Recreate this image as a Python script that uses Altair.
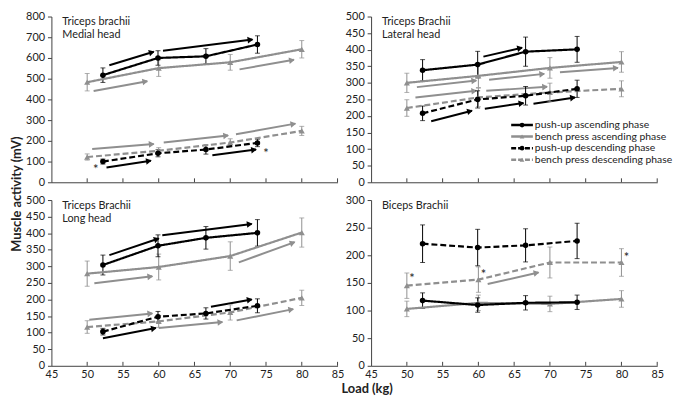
import math
import altair as alt
import pandas as pd

W, H = 290, 168
FONT = "Lato"
BLACK = "#000000"
GRAY = "#8f8f8f"
AX = "#404040"

XTICKS = [45, 50, 55, 60, 65, 70, 75, 80, 85]
pu_load = [52.2, 59.9, 66.6, 73.8]
bp_load = [50, 60, 70, 80]

SERIES = ["push-up ascending phase", "bench press ascending phase",
          "push-up descending phase", "bench press descending phase"]
STYLE = {
    SERIES[0]: dict(color=BLACK, dash=[1, 0], shape="circle", load=pu_load),
    SERIES[1]: dict(color=GRAY, dash=[1, 0], shape="triangle-up", load=bp_load),
    SERIES[2]: dict(color=BLACK, dash=[6, 3], shape="circle", load=pu_load),
    SERIES[3]: dict(color=GRAY, dash=[6, 3], shape="triangle-up", load=bp_load),
}

# ---- Triceps brachii medial head ----
med_vals = [[517, 600, 608, 665], [483, 551, 579, 642], [100, 140, 158, 190], [122, 152, 192, 248]]
med_errs = [[35, 35, 37, 42], [42, 40, 38, 42], [12, 17, 22, 18], [15, 15, 18, 22]]
med_arrows = [
    (53.1, 565, 59.3, 630, BLACK), (60.6, 635, 73.1, 689, BLACK),
    (52.7, 71, 58.9, 104, BLACK), (67.5, 130, 73.6, 158, BLACK),
    (50.9, 441, 58.4, 488, GRAY), (71.3, 545, 78.9, 591, GRAY),
    (50.7, 161, 59.3, 185, GRAY), (60.7, 192, 69.7, 226, GRAY), (70.8, 232, 79.1, 283, GRAY),
]
med_stars = [(51.2, 73), (75.0, 152)]

# ---- Triceps brachii lateral head ----
lat_vals = [[338, 355, 394, 401], [300, 321, 345, 363], [208, 250, 261, 282], [224, 256, 271, 282]]
lat_errs = [[32, 40, 44, 39], [29, 35, 31, 31], [22, 26, 28, 26], [25, 28, 28, 24]]
lat_arrows = [
    (60.7, 379, 66.1, 406, BLACK), (53.4, 184, 59.1, 216, BLACK),
    (60.9, 222, 66.3, 239, BLACK), (67.7, 237, 73.5, 256, BLACK),
    (51.4, 287, 59.7, 307, GRAY), (61.5, 309, 69.2, 327, GRAY), (71.4, 332, 79.5, 345, GRAY),
    (51.2, 256, 59.7, 276, GRAY), (61.1, 276, 69.6, 288, GRAY),
]
lat_stars = []

# ---- Triceps brachii long head ----
long_vals = [[304, 362, 386, 401], [278, 298, 331, 402], [103, 148, 158, 181], [117, 134, 161, 205]]
long_errs = [[30, 33, 34, 40], [38, 39, 43, 44], [10, 16, 17, 21], [19, 18, 23, 23]]
long_arrows = [
    (53.1, 334, 60.0, 384, BLACK), (60.5, 394, 73.0, 428, BLACK),
    (52.2, 83, 59.6, 114, BLACK), (67.3, 178, 73.0, 200, BLACK),
    (51.0, 249, 59.1, 270, GRAY), (71.2, 312, 79.0, 373, GRAY),
    (50.3, 139, 59.1, 158, GRAY), (60.0, 114, 68.9, 132, GRAY), (70.9, 137, 78.8, 171, GRAY),
]
long_stars = []

# ---- Biceps brachii ----
bic_vals = [[118, 110, 114, 115], [103, 114, 112, 121], [221, 214, 218, 226], [145, 156, 187, 187]]
bic_errs = [[14, 13, 13, 13], [14, 14, 14, 15], [34, 33, 30, 32], [23, 23, 28, 25]]
bic_arrows = [(61.3, 148, 68.4, 169, GRAY)]
bic_stars = [(50.7, 162), (60.7, 170), (80.7, 200)]


def panel(title_lines, ymax, ystep, vals, errs, arrows, stars, xlabels,
          legend=False, extra=None):
    xs = alt.Scale(domain=[45, 85], nice=False, zero=False)
    ys = alt.Scale(domain=[0, ymax], nice=False)
    xax = alt.Axis(values=XTICKS, labels=xlabels, ticks=False, title=None, grid=False,
                   domainColor=AX, labelFont=FONT, labelFontSize=11, labelColor="#222",
                   labelPadding=3, labelFlush=False)
    yax = alt.Axis(values=list(range(0, ymax + 1, ystep)), title=None, grid=False,
                   domainColor=AX, tickColor=AX, tickSize=4, labelFont=FONT,
                   labelFontSize=11, labelColor="#222", labelPadding=3)
    X = lambda f: alt.X(f, type="quantitative", scale=xs, axis=xax)
    Y = lambda f: alt.Y(f, type="quantitative", scale=ys, axis=yax)

    layers = []
    # inward x ticks
    tick_df = pd.DataFrame({"t": XTICKS[1:]})
    layers.append(alt.Chart(tick_df).mark_rule(color=AX, strokeWidth=1).encode(
        x=X("t"), y=alt.value(H), y2=alt.value(H - 4)))

    # arrows
    adf = pd.DataFrame(arrows, columns=["x1", "y1", "x2", "y2", "c"])
    layers.append(alt.Chart(adf).mark_rule(strokeWidth=2).encode(
        x=X("x1"), y=Y("y1"), x2="x2", y2="y2", color=alt.Color("c:N", scale=None)))
    heads = []
    for x1, y1, x2, y2, c in arrows:
        dx = (x2 - x1) * W / 40.0
        dy = -(y2 - y1) * H / ymax
        ln = math.hypot(dx, dy)
        ux, uy = dx / ln, dy / ln
        hx = x2 - 2.0 * ux / (W / 40.0)
        hy = y2 + 2.0 * uy / (H / ymax)
        heads.append(dict(x=hx, y=hy, ang=math.degrees(math.atan2(dy, dx)) % 360, c=c))
    hdf = pd.DataFrame(heads)
    layers.append(alt.Chart(hdf).mark_point(shape="triangle-right", filled=True, size=45,
                                            opacity=1).encode(
        x=X("x"), y=Y("y"), angle=alt.Angle("ang:Q", scale=None),
        color=alt.Color("c:N", scale=None)))

    # series: error bars, lines, points
    order = [1, 3, 0, 2]
    for i in order:
        s = SERIES[i]
        st = STYLE[s]
        df = pd.DataFrame({"load": st["load"], "v": vals[i], "e": errs[i]})
        df["lo"] = df["v"] - df["e"]
        df["hi"] = df["v"] + df["e"]
        layers.append(alt.Chart(df).mark_rule(color=st["color"], strokeWidth=1).encode(
            x=X("load"), y=Y("lo"), y2="hi"))
        layers.append(alt.Chart(df).mark_tick(color=st["color"], thickness=1, size=5,
                                              orient="horizontal").encode(x=X("load"), y=Y("lo")))
        layers.append(alt.Chart(df).mark_tick(color=st["color"], thickness=1, size=5,
                                              orient="horizontal").encode(x=X("load"), y=Y("hi")))
    for i in order:
        s = SERIES[i]
        st = STYLE[s]
        df = pd.DataFrame({"load": st["load"], "v": vals[i]})
        layers.append(alt.Chart(df).mark_line(color=st["color"], strokeWidth=2.2,
                                              strokeDash=st["dash"]).encode(x=X("load"), y=Y("v")))
        layers.append(alt.Chart(df).mark_point(color=st["color"], filled=True, opacity=1,
                                               shape=st["shape"],
                                               size=32 if st["shape"] == "circle" else 38).encode(
            x=X("load"), y=Y("v")))

    if stars:
        sdf = pd.DataFrame(stars, columns=["x", "y"])
        layers.append(alt.Chart(sdf).mark_text(text="*", font=FONT, fontSize=13, color="#222",
                                               baseline="middle", dy=3).encode(x=X("x"), y=Y("y")))

    # panel title
    tdf = pd.DataFrame({"t": title_lines, "py": [6 + 13 * k for k in range(len(title_lines))]})
    layers.append(alt.Chart(tdf).mark_text(font=FONT, fontSize=11, color="#222", align="left",
                                           baseline="middle").encode(
        text="t:N", x=alt.value(11), y=alt.Y("py:Q", scale=None)))

    if legend:
        for k, s in enumerate(SERIES):
            st = STYLE[s]
            yy = 110 + 11.7 * k
            ldf = pd.DataFrame({"px": [142], "px2": [164], "py": [yy], "cx": [153], "t": [s]})
            layers.append(alt.Chart(ldf).mark_rule(color=st["color"], strokeWidth=2.5,
                                                   strokeDash=[5, 2] if st["dash"][1] else [1, 0]).encode(
                x=alt.X("px:Q", scale=None), x2="px2", y=alt.Y("py:Q", scale=None)))
            layers.append(alt.Chart(ldf).mark_point(color=st["color"], filled=True, opacity=1,
                                                    shape=st["shape"], size=22).encode(
                x=alt.X("cx:Q", scale=None), y=alt.Y("py:Q", scale=None)))
            layers.append(alt.Chart(ldf).mark_text(font=FONT, fontSize=10.5, color="#222",
                                                   align="left", baseline="middle").encode(
                text="t:N", x=alt.value(166), y=alt.Y("py:Q", scale=None)))

    if extra:
        layers.extend(extra)

    return alt.layer(*layers).properties(width=W, height=H)


ytitle = alt.Chart(pd.DataFrame({"t": ["Muscle activity (mV)"]})).mark_text(
    font=FONT, fontSize=13, fontWeight="bold", color="#222", angle=270,
    align="center", baseline="middle").encode(text="t:N", x=alt.value(-35), y=alt.value(H + 12))
xtitle = alt.Chart(pd.DataFrame({"t": ["Load (kg)"]})).mark_text(
    font=FONT, fontSize=13, fontWeight="bold", color="#222",
    align="center", baseline="middle").encode(text="t:N", x=alt.value(320), y=alt.value(H + 24))

tl = panel(["Triceps brachii", "Medial head"], 800, 100, med_vals, med_errs, med_arrows,
           med_stars, False, extra=[ytitle])
tr = panel(["Triceps Brachii", "Lateral head"], 500, 50, lat_vals, lat_errs, lat_arrows,
           lat_stars, False, legend=True)
bl = panel(["Triceps Brachii", "Long head"], 500, 50, long_vals, long_errs, long_arrows,
           long_stars, True, extra=[xtitle])
br = panel(["Biceps Brachii"], 300, 50, bic_vals, bic_errs, bic_arrows, bic_stars, True)

chart = alt.concat(tl, tr, bl, br, columns=2, spacing={"row": 18, "column": 34},
                   bounds="flush").properties(
    padding={"left": 3, "top": 0, "right": 0, "bottom": 0}).configure_view(stroke=None)

chart.save("out.html", embed_options={"renderer": "svg", "actions": False})
